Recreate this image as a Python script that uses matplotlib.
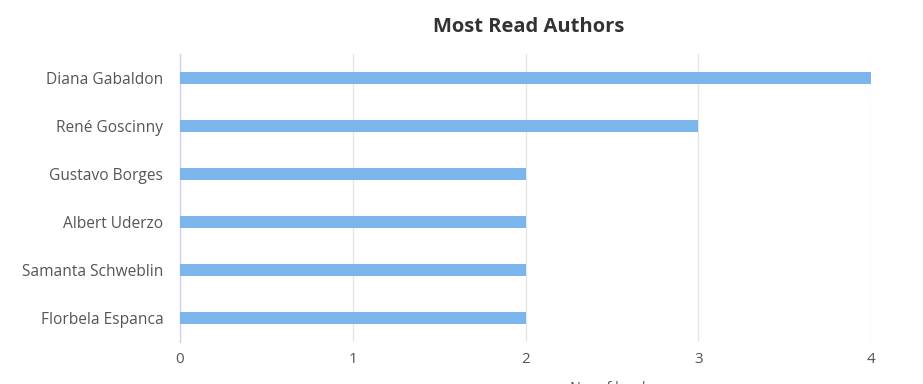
"""Most read authors bar chart."""

import matplotlib.pyplot as plt
import numpy as np

authors = [
    "Diana Gabaldon",
    "René Goscinny",
    "Gustavo Borges",
    "Albert Uderzo",
    "Samanta Schweblin",
    "Florbela Espanca",
]
books = [4, 3, 2, 2, 2, 2]
x_ticks = [0, 1, 2, 3, 4]

plt.rcParams["font.family"] = ["Open Sans", "DejaVu Sans"]

fig = plt.figure(figsize=(9.23, 3.84), dpi=100)
ax = fig.add_axes([180 / 923, 1 - 342 / 384, 691 / 923, 288 / 384])

y = np.arange(len(authors))
ax.barh(y, books, height=0.26, color="#7cb5ec", zorder=3)
ax.set_ylim(len(authors) - 0.5, -0.5)
ax.set_xlim(0, 4)
ax.set_yticks(y)
ax.set_yticklabels(authors)
ax.set_xticks(x_ticks)

ax.grid(axis="x", color="#e6e6e6", linewidth=1, zorder=0)
for side in ["top", "right", "bottom"]:
    ax.spines[side].set_visible(False)
ax.spines["left"].set_color("#ccd6eb")
ax.spines["left"].set_linewidth(1)

ax.tick_params(axis="y", length=0, pad=12, labelsize=11.2, labelcolor="#555555")
ax.tick_params(axis="x", length=0, pad=7, labelsize=11, labelcolor="#555555")

fig.text(529 / 923, 1 - 27 / 384, "Most Read Authors", ha="center", va="center",
         fontsize=14.5, fontweight="bold", color="#333333")
fig.text(613 / 923, 1 - 389 / 384, "No. of books", ha="center", va="center",
         fontsize=10.5, color="#555555")

fig.savefig("out.png", dpi=100)
